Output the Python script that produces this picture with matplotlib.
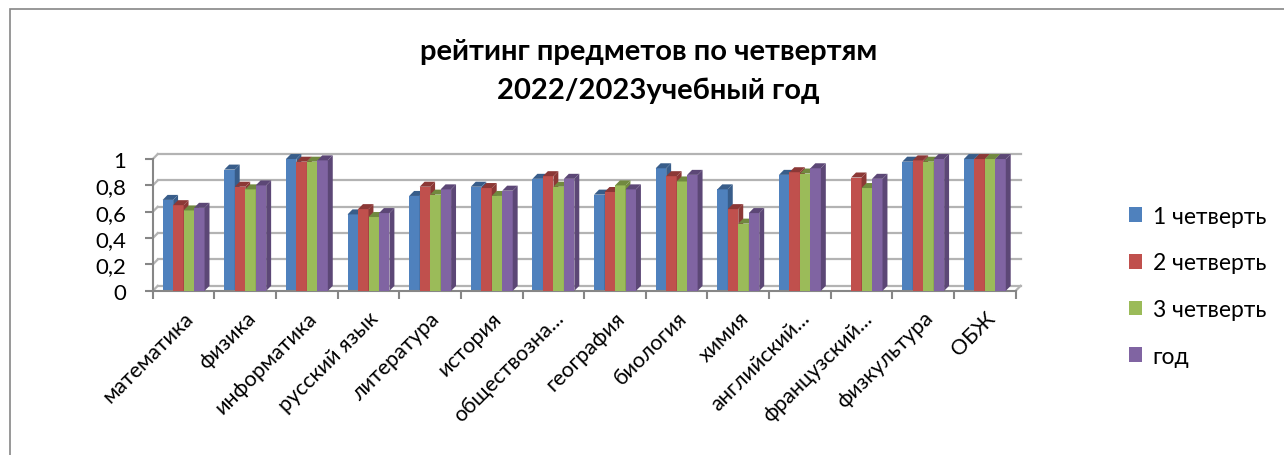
import numpy as np
import matplotlib.pyplot as plt
from matplotlib.patches import Polygon, Rectangle

plt.rcParams['font.family'] = ['Lato', 'DejaVu Sans']

subjects = ['математика', 'физика', 'информатика', 'русский язык', 'литература',
            'история', 'обществозна...', 'география', 'биология', 'химия',
            'английский...', 'французский...', 'физкультура', 'ОБЖ']
q1 = [0.69, 0.92, 1.00, 0.58, 0.72, 0.79, 0.85, 0.73, 0.93, 0.77, 0.88, 0.00, 0.98, 1.00]
q2 = [0.65, 0.79, 0.98, 0.62, 0.79, 0.78, 0.87, 0.75, 0.87, 0.62, 0.90, 0.86, 0.99, 1.00]
q3 = [0.61, 0.77, 0.98, 0.56, 0.73, 0.72, 0.79, 0.80, 0.83, 0.51, 0.89, 0.78, 0.98, 1.00]
year = [0.63, 0.80, 0.99, 0.59, 0.77, 0.76, 0.85, 0.77, 0.88, 0.59, 0.93, 0.85, 1.00, 1.00]
series = [q1, q2, q3, year]
labels = ['1 четверть', '2 четверть', '3 четверть', 'год']
colors = ['#4F81BD', '#C0504D', '#9BBB59', '#8064A2']
dark = ['#385D8A', '#8C3836', '#71893F', '#5C4776']
yticks = [0, 0.2, 0.4, 0.6, 0.8, 1.0]

fig = plt.figure(figsize=(12.84, 4.56), dpi=100)
ax = fig.add_axes([0.119, 0.36, 0.672, 0.289])

# outer frame of the chart area
fig.patches.append(Rectangle((0.008, -0.01), 1.2, 0.987, transform=fig.transFigure,
                             fill=False, ec='#868686', lw=1.2))

n = len(subjects)
x = np.arange(n)
w = 0.17
dx, dy = 0.08, 0.038
grid_c = '#B3B3B3'

# back wall grid and floor
for v in yticks:
    ax.plot([-0.5 + dx, n - 0.5 + dx], [v + dy, v + dy], color=grid_c, lw=1.6,
            clip_on=False, zorder=0)
    ax.plot([-0.5, -0.5 + dx], [v, v + dy], color=grid_c, lw=1.6, clip_on=False, zorder=0)
ax.plot([n - 0.5, n - 0.5 + dx], [0, dy], color=grid_c, lw=1.6, clip_on=False, zorder=0)

handles = []
for k, vals in enumerate(series):
    xs = x - 2 * w + k * w
    b = ax.bar(xs, vals, width=w, align='edge', color=colors[k], zorder=2 + k,
               label=labels[k])
    handles.append(b)
    for xi, h in zip(xs, vals):
        if h <= 0:
            continue
        x1 = xi + w
        side = Polygon([(x1, 0), (x1 + dx, dy), (x1 + dx, h + dy), (x1, h)],
                       closed=True, fc=dark[k], ec='none', clip_on=False, zorder=2 + k)
        top = Polygon([(xi, h), (xi + dx, h + dy), (x1 + dx, h + dy), (x1, h)],
                      closed=True, fc=dark[k], ec='none', clip_on=False, zorder=2 + k)
        ax.add_patch(side)
        ax.add_patch(top)

ax.set_xlim(-0.5, n - 0.5)
ax.set_ylim(0, 1)
ax.set_yticks(yticks)
ax.set_yticklabels(['0', '0,2', '0,4', '0,6', '0,8', '1'], fontsize=16)
ax.set_xticks(x)
ax.set_xticklabels(subjects, rotation=45, ha='right', rotation_mode='anchor', fontsize=15.5)
ax.set_xticks(np.arange(-0.5, n, 1), minor=True)
ax.tick_params(axis='x', which='major', length=0, pad=12)
ax.tick_params(axis='x', which='minor', length=6, color='#868686', width=1.5)
ax.tick_params(axis='y', length=6, color='#868686', width=1.5, pad=13)
for s in ['top', 'right']:
    ax.spines[s].set_visible(False)
for s in ['left', 'bottom']:
    ax.spines[s].set_color('#868686')
    ax.spines[s].set_linewidth(1.5)
ax.set_facecolor('none')

fig.text(0.505, 0.885, 'рейтинг предметов по четвертям', ha='center', va='center',
         fontsize=21, fontweight='bold')
fig.text(0.513, 0.80, '2022/2023учебный год', ha='center', va='center',
         fontsize=21, fontweight='bold')

fig.legend(handles=handles, loc='center left', bbox_to_anchor=(0.863, 0.37), frameon=False,
           fontsize=16.5, handlelength=0.6, handleheight=0.6, handletextpad=0.45,
           labelspacing=1.12)

fig.savefig('out.png', dpi=100)
